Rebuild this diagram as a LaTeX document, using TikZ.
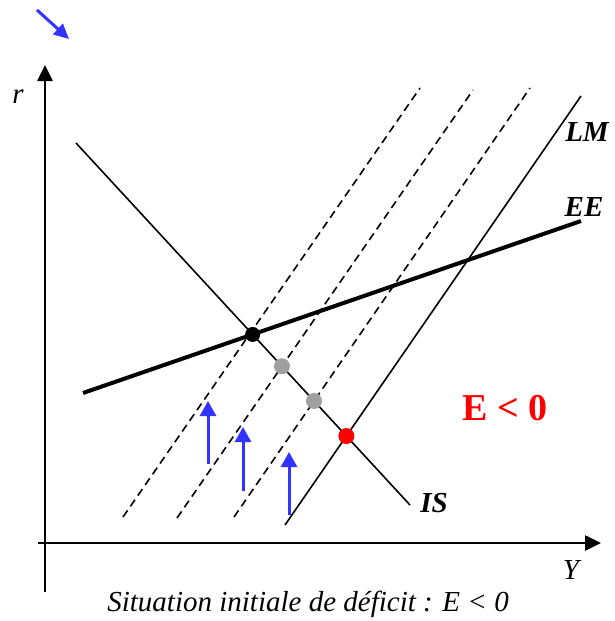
\documentclass[tikz,border=0pt]{standalone}
\usepackage{fontspec}
\setmainfont{Liberation Serif}
\usetikzlibrary{arrows.meta}
\definecolor{arrblue}{RGB}{51,51,255}
\definecolor{ptgray}{RGB}{160,160,160}
\begin{document}
\begin{tikzpicture}[x=1pt,y=-1pt,
  axis/.style={line width=2.6pt,-{Triangle[length=16pt,width=15pt]}},
  thinline/.style={line width=1.6pt},
  thickline/.style={line width=4pt},
  dashline/.style={line width=1.6pt,dash pattern=on 8pt off 5pt},
  bluearrow/.style={line width=3pt,arrblue,-{Triangle[length=15pt,width=16pt]}},
  dot/.style={circle,inner sep=0pt,minimum size=16pt},
  lbl/.style={font=\fontsize{29}{31}\selectfont\bfseries\itshape,inner sep=0pt},
  axlbl/.style={font=\fontsize{29}{31}\selectfont\itshape,inner sep=0pt}]
\useasboundingbox (0,0) rectangle (615,621);
% axes
\coordinate (ybot) at (45,592);
\coordinate (ytop) at (45,65);
\coordinate (xleft) at (38,543);
\coordinate (xright) at (601,543);
\draw[axis] (ybot) -- (ytop);
\draw[axis] (xleft) -- (xright);
\node[axlbl] (rlab) at (18,97) {r};
\node[axlbl] (ylab) at (571,570) {Y};
% curves
\coordinate (is1) at (76,143);
\coordinate (is2) at (410,505);
\coordinate (ee1) at (83,393);
\coordinate (ee2) at (581,221);
\coordinate (lm1) at (285,525);
\coordinate (lm2) at (581,96);
\coordinate (d1a) at (123,517);
\coordinate (d1b) at (420,88);
\coordinate (d2a) at (177,518);
\coordinate (d2b) at (473,90);
\coordinate (d3a) at (234,517);
\coordinate (d3b) at (530,88);
\draw[dashline] (d1a) -- (d1b);
\draw[dashline] (d2a) -- (d2b);
\draw[dashline] (d3a) -- (d3b);
\draw[thinline] (is1) -- (is2);
\draw[thinline] (lm1) -- (lm2);
\draw[thickline] (ee1) -- (ee2);
\node[lbl] (islab) at (434,503) {IS};
\node[lbl] (lmlab) at (587,132) {LM};
\node[lbl] (eelab) at (584,207) {EE};
% points
\node[dot,fill=black,minimum size=15pt] (p0) at (intersection of is1--is2 and ee1--ee2) {};
\node[dot,fill=ptgray] (p1) at (intersection of is1--is2 and d2a--d2b) {};
\node[dot,fill=ptgray] (p2) at (intersection of is1--is2 and d3a--d3b) {};
\node[dot,fill=red] (p3) at (intersection of is1--is2 and lm1--lm2) {};
% blue arrows
\coordinate (b1a) at (208,464); \coordinate (b1b) at (208,401);
\coordinate (b2a) at (243,491); \coordinate (b2b) at (243,427);
\coordinate (b3a) at (289,515); \coordinate (b3b) at (289,452);
\draw[bluearrow] (b1a) -- (b1b);
\draw[bluearrow] (b2a) -- (b2b);
\draw[bluearrow] (b3a) -- (b3b);
\coordinate (ta) at (37,10);
\coordinate (tb) at (69,39);
\draw[line width=3pt,arrblue,-{Triangle[length=15pt,width=14pt]}] (ta) -- (tb);
% texts
\node[font=\fontsize{38}{40}\selectfont\bfseries,text=red,inner sep=0pt] (elab) at (505,408) {E < 0};
\node[font=\fontsize{29}{31}\selectfont\itshape,inner sep=0pt] (cap) at (308,604) {Situation initiale de déficit : E < 0};
\end{tikzpicture}
\end{document}
